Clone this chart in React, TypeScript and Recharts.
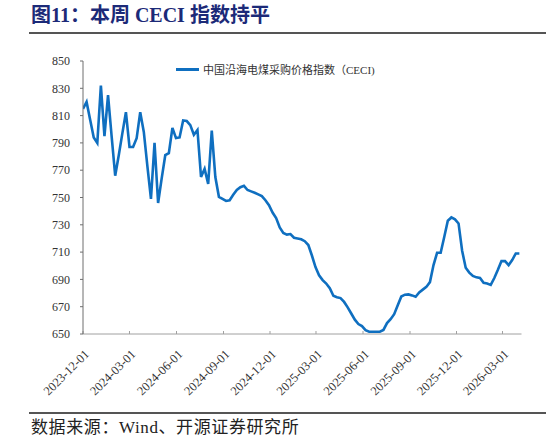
import { LineChart, Line, XAxis, YAxis } from "recharts";

const START = "2023-12-01";
const WEEK = 7 * 24 * 3600 * 1000;

// weekly CECI readings, from 2023-12-01
const CECI = [
  815, 820, 807, 794, 790, 832, 795, 825, 795, 766,
  781, 797, 812.5, 787, 787, 793.5, 812.5, 798, 773, 749,
  790, 746, 764, 781, 782.5, 801, 793.5, 794, 806.4, 806,
  803, 796, 799.5, 765, 771, 760, 799, 765, 750.5, 749,
  747.5, 748, 752, 755.5, 757.5, 758.5, 755.5, 754.5, 753.5, 752.3,
  751, 748, 744.3, 739, 735, 728, 724, 722.8, 723.2, 720.5,
  720, 719.4, 718, 715.2, 707.5, 699, 693, 689.5, 687, 683.5,
  678, 677, 676.3, 673.5, 669.5, 665, 660.5, 657.3, 655.8, 652.8,
  651.7, 651.7, 651.7, 651.7, 653, 658, 660.8, 664.5, 671, 677.5,
  678.8, 679, 678.3, 677.3, 680.5, 682.5, 684.5, 688, 700.5, 709.5,
  709.5, 721, 733, 735.4, 734, 731, 711, 698.5, 695, 692.5,
  691.5, 691, 687.5, 687, 686, 691, 697, 703.4, 703.4, 700.5,
  704.2, 709, 709,
];

const X_TICKS = [
  "2023-12-01", "2024-03-01", "2024-06-01", "2024-09-01", "2024-12-01",
  "2025-03-01", "2025-06-01", "2025-09-01", "2025-12-01", "2026-03-01",
];
const Y_TICKS = [650, 670, 690, 710, 730, 750, 770, 790, 810, 830, 850];

const SERIES_NAME = "中国沿海电煤采购价格指数（CECI)";
const TITLE = "图11：本周 CECI 指数持平";
const SOURCE = "数据来源：Wind、开源证券研究所";

const t0 = Date.parse(START);
const data = CECI.map((v, i) => ({ t: t0 + i * WEEK, ceci: v }));
const xTicks = X_TICKS.map((d) => Date.parse(d));

const BLUE = "#0f6fc0";
const FONT = "'Liberation Serif', 'Times New Roman', 'Noto Sans CJK SC', serif";

const DateTick = ({ x, y, payload }: any) => {
  const d = new Date(payload.value).toISOString().slice(0, 10);
  return (
    <g transform={`translate(${x + 4},${y})`}>
      <text x={0} y={0} dy={4} textAnchor="end" transform="rotate(-45)" fontSize={12.5} fill="#333" fontFamily={FONT}>
        {d}
      </text>
    </g>
  );
};

export default function App() {
  return (
    <div style={{ position: "relative", width: 546, height: 438, background: "#fff", fontFamily: FONT }}>
      <style>{"body{margin:0}"}</style>
      <div style={{ position: "absolute", left: 31, top: 2, fontSize: 20, fontWeight: 700, color: "#1c2a78", lineHeight: "26px" }}>
        {TITLE}
      </div>
      <div style={{ position: "absolute", left: 29, top: 32, width: 517, height: 1.5, background: "#555" }} />

      <div style={{ position: "absolute", left: 0, top: 0 }}>
        <LineChart width={546} height={438} data={data} margin={{ top: 61, right: 24.5, bottom: 44, left: 23 }}>
          <XAxis
            dataKey="t"
            type="number"
            domain={[t0, t0 + 122.6 * WEEK]}
            ticks={xTicks}
            tick={<DateTick />}
            tickSize={-3}
            tickMargin={21}
            height={60}
            interval={0}
            stroke="#a0a0a0"
            allowDataOverflow
          />
          <YAxis
            domain={[650, 850]}
            ticks={Y_TICKS}
            width={60}
            tickSize={3}
            tickMargin={10}
            interval={0}
            stroke="#6e6e6e"
            tick={{ fontSize: 12, fill: "#333", fontFamily: FONT }}
          />
          <Line
            dataKey="ceci"
            name={SERIES_NAME}
            stroke={BLUE}
            strokeWidth={2.6}
            dot={false}
            isAnimationActive={false}
          />
        </LineChart>
      </div>

      <div style={{ position: "absolute", left: 176, top: 62, display: "flex", alignItems: "center", height: 14 }}>
        <div style={{ width: 23, height: 3, background: BLUE }} />
        <span style={{ marginLeft: 4, fontSize: 11, color: "#333", whiteSpace: "nowrap" }}>{SERIES_NAME}</span>
      </div>

      <div style={{ position: "absolute", left: 29, top: 412, width: 517, height: 1.5, background: "#555" }} />
      <div style={{ position: "absolute", left: 31, top: 419, fontSize: 17, color: "#222", lineHeight: "17px", letterSpacing: 0.6, whiteSpace: "nowrap" }}>
        {SOURCE}
      </div>
    </div>
  );
}
